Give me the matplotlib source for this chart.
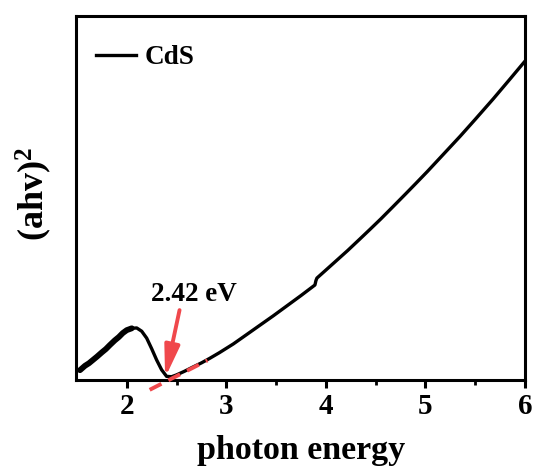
import matplotlib
matplotlib.use("Agg")
import matplotlib.pyplot as plt
import numpy as np

plt.rcParams['font.family'] = ['Liberation Serif', 'DejaVu Serif']
plt.rcParams['font.weight'] = 'bold'
plt.rcParams['mathtext.fontset'] = 'custom'
plt.rcParams['mathtext.rm'] = 'Liberation Serif:bold'
plt.rcParams['mathtext.it'] = 'Liberation Serif:bold'
plt.rcParams['mathtext.bf'] = 'Liberation Serif:bold'

# Curve (photon energy vs (ahv)^2, arbitrary units)
energy = [1.53, 1.58, 1.62, 1.66, 1.70, 1.75, 1.79, 1.83, 1.88, 1.92, 1.96, 2.00,
          2.05, 2.10, 2.15, 2.20, 2.25, 2.30, 2.35, 2.40, 2.45, 2.50, 2.58, 2.66,
          2.75, 2.83, 2.93, 3.07, 3.20, 3.34, 3.47, 3.61, 3.75, 3.89, 3.90, 3.91,
          4.00, 4.11, 4.22, 4.34, 4.44, 4.55, 4.67, 4.80, 4.90, 5.02, 5.18, 5.35,
          5.50, 5.68, 5.85, 6.00]
absorb = [2.7, 3.9, 4.6, 5.5, 6.4, 7.6, 8.5, 9.6, 10.9, 11.8, 12.9, 13.7,
          14.2, 14.3, 13.4, 11.5, 8.6, 5.5, 2.8, 1.0, 0.9, 1.4, 2.4, 3.5,
          4.7, 5.9, 7.5, 9.9, 12.4, 15.1, 17.6, 20.4, 23.2, 26.1, 27.3, 28.0,
          30.2, 32.9, 35.6, 38.7, 41.3, 44.2, 47.5, 51.1, 53.9, 57.3, 62.0, 67.0,
          71.6, 77.2, 82.7, 87.6]
noisy_end = 13  # indices of the noisy low-energy part

# Tangent (Tauc) line
tangent_x = [2.23, 2.81]
tangent_y = [-2.7, 5.4]

gap_label = "2.42 eV"
series_name = "CdS"
xticks = [2, 3, 4, 5, 6]
minor_ticks = [2.5, 3.5, 4.5, 5.5]

fig = plt.figure(figsize=(5.34, 4.69), dpi=100)
ax = fig.add_axes([76/534, 1-380/469, (525-76)/534, (380-16)/469])

ax.plot(energy, absorb, color='black', lw=2.4, label=series_name, zorder=3)
ax.plot(energy[:noisy_end], absorb[:noisy_end], color='black', lw=4.2,
        solid_capstyle='round', zorder=3)
ax.plot(tangent_x, tangent_y, color='#f0484c', lw=2.8, ls=(0, (3.4, 2.0)),
        clip_on=False, zorder=4)

ax.annotate(gap_label, xy=(2.385, 0.6), xytext=(2.675, 23.4),
            ha='center', va='center', fontsize=19.5, fontweight='bold',
            zorder=5)
ax.annotate('', xy=(2.385, 0.6), xytext=(2.53, 19.2),
            arrowprops=dict(arrowstyle='-|>,head_width=0.45,head_length=1.9',
                            color='#f0484c', lw=2.8, shrinkA=0, shrinkB=0),
            zorder=5)

ax.set_xlim(1.49, 6.0)
ax.set_ylim(0, 100)
ax.set_xticks(xticks)
ax.set_xticks(minor_ticks, minor=True)
ax.set_yticks([])
ax.tick_params(axis='x', which='major', direction='out', length=6, width=2.2,
               labelsize=21, pad=3)
ax.tick_params(axis='x', which='minor', direction='out', length=3.5, width=2.0)
for lab in ax.get_xticklabels():
    lab.set_fontweight('bold')
for sp in ax.spines.values():
    sp.set_linewidth(2.2)

ax.set_xlabel('photon energy', fontsize=24.5, fontweight='bold')
ax.xaxis.set_label_coords(0.501, -0.152)
ax.set_ylabel(r'(ahv)$^2$', fontsize=26, fontweight='bold')
ax.yaxis.set_label_coords(-0.05, 0.51)

leg = ax.legend(loc='upper left', frameon=False, fontsize=19.5, handlelength=1.5,
                handletextpad=0.3, borderaxespad=0.0, bbox_to_anchor=(0.02, 0.95))
for t in leg.get_texts():
    t.set_fontweight('bold')

fig.savefig('out.png', dpi=100)
